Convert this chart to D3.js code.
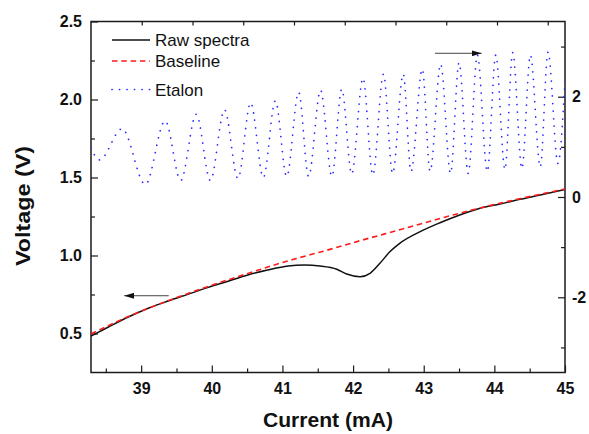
<!DOCTYPE html>
<html>
<head>
<meta charset="utf-8">
<script src="https://cdn.jsdelivr.net/npm/d3@7"></script>
<style>
  body { margin: 0; background: #fff; }
  svg { display: block; font-family: "Liberation Sans", Arial, sans-serif; }
</style>
</head>
<body>
<svg id="chart" width="589" height="434"></svg>
<script>
// raw spectra (left axis)
const rawCurrent = [38.29, 38.53, 38.81, 39.10, 39.38, 39.66, 39.94, 40.23, 40.51, 40.79, 41.08, 41.31, 41.53, 41.77, 41.91, 42.10, 42.24, 42.38, 42.52, 42.66, 42.95, 43.23, 43.51, 43.80, 44.08, 44.36, 44.65, 45.00];
const rawVoltage = [0.484, 0.540, 0.604, 0.662, 0.708, 0.751, 0.794, 0.835, 0.875, 0.907, 0.933, 0.939, 0.933, 0.912, 0.881, 0.864, 0.886, 0.950, 1.024, 1.078, 1.153, 1.210, 1.260, 1.303, 1.330, 1.360, 1.388, 1.424];

// baseline (left axis)
const baseCurrent = [38.29, 38.81, 39.38, 39.94, 40.51, 41.15, 41.60, 42.10, 42.66, 43.23, 43.80, 44.36, 45.00];
const baseVoltage = [0.497, 0.607, 0.710, 0.800, 0.885, 0.975, 1.030, 1.095, 1.165, 1.237, 1.305, 1.364, 1.426];

// etalon (right axis), turning points
const etalonCurrent = [38.29, 38.41, 38.73, 39.06, 39.34, 39.56, 39.78, 39.98, 40.18, 40.37, 40.55, 40.73, 40.90, 41.06, 41.23, 41.37, 41.54, 41.70, 41.84, 41.98, 42.14, 42.28, 42.43, 42.56, 42.71, 42.82, 42.98, 43.09, 43.24, 43.38, 43.50, 43.63, 43.76, 43.90, 44.02, 44.15, 44.26, 44.39, 44.51, 44.65, 44.76, 44.90, 45.00];
const etalonSignal = [0.98, 0.74, 1.36, 0.25, 1.52, 0.33, 1.65, 0.33, 1.74, 0.37, 1.88, 0.39, 1.92, 0.41, 2.09, 0.41, 2.13, 0.41, 2.15, 0.46, 2.37, 0.44, 2.45, 0.47, 2.45, 0.51, 2.55, 0.51, 2.65, 0.47, 2.68, 0.47, 2.83, 0.51, 2.83, 0.55, 2.88, 0.57, 2.83, 0.60, 2.89, 0.67, 2.33];

// ticks
const xTicks = [39, 40, 41, 42, 43, 44, 45];
const xMinor = [38.5, 39.5, 40.5, 41.5, 42.5, 43.5, 44.5];
const leftTicks = [0.5, 1.0, 1.5, 2.0, 2.5];
const leftMinor = [0.75, 1.25, 1.75, 2.25];
const rightTicks = [-2, 0, 2];
const rightMinor = [-3, -1, 1, 3];
const topTicks = [1, 2, 3, 4, 5, 6, 7, 8, 9];

const seriesNames = ["Raw spectra", "Baseline", "Etalon"];

const margin = { top: 21.5, right: 24, bottom: 61.5, left: 91 };
const width = 589 - margin.left - margin.right;
const height = 434 - margin.top - margin.bottom;

const svg = d3.select("#chart");
const g = svg.append("g").attr("transform", `translate(${margin.left},${margin.top})`);

const xScale = d3.scaleLinear().domain([38.29, 45]).range([0, width]);
const yLeft = d3.scaleLinear().domain([0.25, 2.5]).range([height, 0]);
const yRight = d3.scaleLinear().domain([-3.5, 3.5]).range([height, 0]);
const xTop = d3.scaleLinear().domain([0, 9.34]).range([0, width]);

function styleAxis(sel) {
  sel.select(".domain").remove();
  sel.selectAll("line").attr("stroke", "#1a1a1a").attr("stroke-width", 1.2);
  sel.selectAll("text")
    .attr("fill", "#111")
    .style("font-size", "16px")
    .style("font-weight", "bold");
}

// bottom axis
g.append("g")
  .attr("transform", `translate(0,${height})`)
  .call(d3.axisBottom(xScale).tickValues(xTicks).tickSize(-7).tickPadding(10).tickFormat(d3.format("d")))
  .call(styleAxis);
g.append("g")
  .attr("transform", `translate(0,${height})`)
  .call(d3.axisBottom(xScale).tickValues(xMinor).tickSize(-4).tickFormat(""))
  .call(styleAxis);

// top axis
g.append("g")
  .call(d3.axisTop(xTop).tickValues(topTicks).tickSize(-4).tickFormat(""))
  .call(styleAxis);

// left axis
g.append("g")
  .call(d3.axisLeft(yLeft).tickValues(leftTicks).tickSize(-7).tickPadding(9).tickFormat(d3.format(".1f")))
  .call(styleAxis);
g.append("g")
  .call(d3.axisLeft(yLeft).tickValues(leftMinor).tickSize(-4).tickFormat(""))
  .call(styleAxis);

// right axis
g.append("g")
  .attr("transform", `translate(${width},0)`)
  .call(d3.axisRight(yRight).tickValues(rightTicks).tickSize(-7).tickPadding(7).tickFormat((d) => String(d)))
  .call(styleAxis);
g.append("g")
  .attr("transform", `translate(${width},0)`)
  .call(d3.axisRight(yRight).tickValues(rightMinor).tickSize(-4).tickFormat(""))
  .call(styleAxis);

// frame
g.append("rect")
  .attr("width", width)
  .attr("height", height)
  .attr("fill", "none")
  .attr("stroke", "#1a1a1a")
  .attr("stroke-width", 1.5);

const clip = g.append("clipPath").attr("id", "plot-clip")
  .append("rect").attr("width", width).attr("height", height);

const plot = g.append("g").attr("clip-path", "url(#plot-clip)");

const leftLine = d3.line()
  .x((d) => xScale(d[0]))
  .y((d) => yLeft(d[1]))
  .curve(d3.curveMonotoneX);

const rightLine = d3.line()
  .x((d) => xScale(d[0]))
  .y((d) => yRight(d[1]))
  .curve(d3.curveMonotoneX);

plot.append("path")
  .datum(d3.zip(etalonCurrent, etalonSignal))
  .attr("d", rightLine)
  .attr("fill", "none")
  .attr("stroke", "#2b2bff")
  .attr("stroke-width", 1.7)
  .attr("stroke-linecap", "round")
  .attr("stroke-dasharray", "0.1 7.4");

plot.append("path")
  .datum(d3.zip(rawCurrent, rawVoltage))
  .attr("d", leftLine)
  .attr("fill", "none")
  .attr("stroke", "#111")
  .attr("stroke-width", 1.5);

plot.append("path")
  .datum(d3.zip(baseCurrent, baseVoltage))
  .attr("d", leftLine)
  .attr("fill", "none")
  .attr("stroke", "#ff1a1a")
  .attr("stroke-width", 1.6)
  .attr("stroke-dasharray", "5.5 3.8");

// arrows telling which axis each curve uses
svg.append("defs").append("marker")
  .attr("id", "head")
  .attr("viewBox", "0 0 10 6")
  .attr("refX", 10)
  .attr("refY", 3)
  .attr("markerWidth", 10)
  .attr("markerHeight", 6)
  .attr("markerUnits", "userSpaceOnUse")
  .attr("orient", "auto")
  .append("path")
  .attr("d", "M0,0L10,3L0,6Z")
  .attr("fill", "#111");

g.append("line")
  .attr("x1", xScale(39.39)).attr("x2", xScale(38.76))
  .attr("y1", yLeft(0.742)).attr("y2", yLeft(0.742))
  .attr("stroke", "#444").attr("stroke-width", 1)
  .attr("marker-end", "url(#head)");

g.append("line")
  .attr("x1", xScale(43.16)).attr("x2", xScale(43.82))
  .attr("y1", yRight(2.866)).attr("y2", yRight(2.866))
  .attr("stroke", "#444").attr("stroke-width", 1)
  .attr("marker-end", "url(#head)");

// legend
const legendStyles = [
  { stroke: "#111", dash: null, cap: "butt", w: 1.5 },
  { stroke: "#ff1a1a", dash: "5.5 3.8", cap: "butt", w: 1.6 },
  { stroke: "#2b2bff", dash: "0.1 7.4", cap: "round", w: 1.7 }
];
const legendY = [40, 61, 89.5];

const legend = svg.append("g");
seriesNames.forEach((name, i) => {
  const s = legendStyles[i];
  legend.append("line")
    .attr("x1", 112).attr("x2", 150)
    .attr("y1", legendY[i]).attr("y2", legendY[i])
    .attr("stroke", s.stroke)
    .attr("stroke-width", s.w)
    .attr("stroke-linecap", s.cap)
    .attr("stroke-dasharray", s.dash);
  legend.append("text")
    .attr("x", 155)
    .attr("y", legendY[i] + 6)
    .attr("fill", "#111")
    .style("font-size", "17px")
    .text(name);
});

// axis titles
svg.append("text")
  .attr("x", 328)
  .attr("y", 427)
  .attr("fill", "#111")
  .style("font-size", "20px")
  .style("font-weight", "bold")
  .style("text-anchor", "middle")
  .attr("textLength", 130)
  .attr("lengthAdjust", "spacingAndGlyphs")
  .text("Current (mA)");

svg.append("text")
  .attr("transform", "translate(30,206) rotate(-90)")
  .attr("fill", "#111")
  .style("font-size", "21px")
  .style("font-weight", "bold")
  .style("text-anchor", "middle")
  .attr("textLength", 120)
  .attr("lengthAdjust", "spacingAndGlyphs")
  .text("Voltage (V)");
</script>
</body>
</html>
